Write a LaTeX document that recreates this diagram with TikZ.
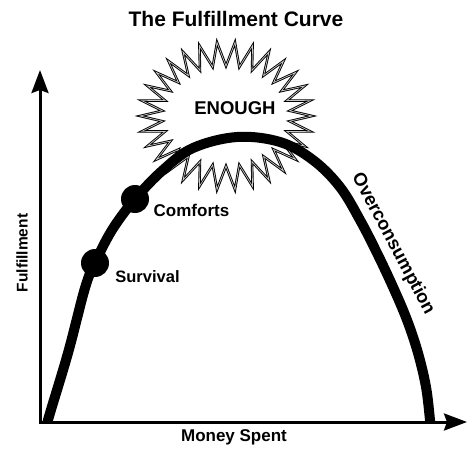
\documentclass[tikz,border=0pt]{standalone}
\usepackage{fontspec}
\setmainfont{Liberation Sans}
\usetikzlibrary{arrows.meta}
\begin{document}
\begin{tikzpicture}[x=1pt,y=-1pt,
  axis/.style={line width=3pt,-{Stealth[length=23pt,width=17pt,inset=3pt]}},
  arch/.style={line width=10pt,line join=round},
  milestone/.style={circle,fill=black,inner sep=0pt,minimum size=28pt},
  lbl/.style={font=\bfseries,inner sep=0pt},
  burst/.style={line width=0.9pt,double=gray!45,double distance=0.7pt,fill=white,line join=miter}
]
\useasboundingbox (0,0) rectangle (467,450);

% title
\node[lbl,font=\bfseries\fontsize{21}{24}\selectfont] (title) at (236,19) {The Fulfillment Curve};

% the sunburst behind the curve
\draw[burst] plot[samples=61,domain=0:60,variable=\k]
  ({226+ifthenelse(mod(\k,2)==0,86,64)*cos(\k*6)},
   {116-ifthenelse(mod(\k,2)==0,74,50)*sin(\k*6)}) -- cycle;
\node[lbl,font=\bfseries\fontsize{18.5}{20}\selectfont] (enough) at (235,108) {ENOUGH};

% axes
\coordinate (origin) at (40,422);
\coordinate (ytip) at (40,70);
\coordinate (xtip) at (467,422);
\draw[axis] (origin) ++(0,1.5) -- (ytip);
\draw[axis] (origin) ++(-1.5,0) -- (xtip);

% the fulfillment arch
\begin{scope}
\clip (0,0) rectangle (467,421);
\draw[arch] plot[smooth,tension=0.6] coordinates {
  (46,432) (48,420) (68,353) (85,288) (95,263) (112,230) (135,199)
  (163,170) (193,148) (237,137) (280,142) (313,160) (340,187)
  (360,220) (377,253) (393,287) (407,320) (418,353) (426,387)
  (430,420) (431,432)};
\end{scope}

% milestones
\node[milestone] (survival) at (95,263) {};
\node[milestone] (comforts) at (135,199) {};
\node[lbl,font=\bfseries\fontsize{16.5}{18}\selectfont] (survivallbl) at (147.5,277) {Survival};
\node[lbl,font=\bfseries\fontsize{17}{19}\selectfont] (comfortslbl) at (191.5,210) {Comforts};
\node[lbl,font=\bfseries\fontsize{18.4}{20}\selectfont,rotate=-62] (over) at (393,244) {Overconsumption};

% axis labels
\node[lbl,font=\bfseries\fontsize{15.5}{17}\selectfont,rotate=90] (ylbl) at (22,253) {Fulfillment};
\node[lbl,font=\bfseries\fontsize{17}{19}\selectfont] (xlbl) at (234,437) {Money Spent};
\end{tikzpicture}
\end{document}
